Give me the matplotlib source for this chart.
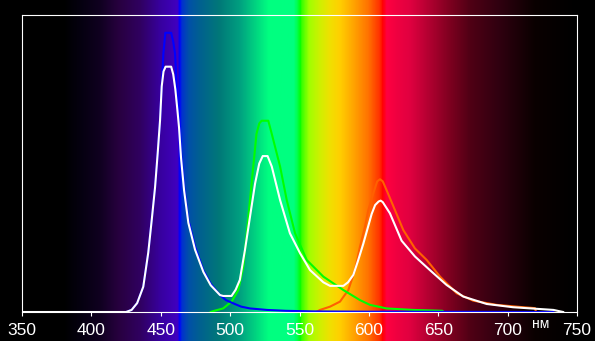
import numpy as np
import matplotlib.pyplot as plt
from matplotlib.colors import LinearSegmentedColormap

# spectrum curves, heights as a fraction of the frame height
blue_nm = [425, 429, 433, 437.4, 441, 443.5, 445.9, 447.8, 449.5, 450.7, 451.9, 453.3,
           457.5, 459, 460.3, 461.5, 463.2, 464.6, 466.8, 469.9, 474.7, 480.7, 486,
           492.7, 497, 502.3, 508, 514.3, 526.4, 540, 560, 600, 733]
blue_val = [0.0, 0.007, 0.03, 0.085, 0.2, 0.31, 0.42, 0.535, 0.646, 0.76, 0.87, 0.94,
            0.94, 0.91, 0.87, 0.76, 0.646, 0.535, 0.42, 0.31, 0.22, 0.14, 0.095,
            0.057, 0.04, 0.029, 0.018, 0.012, 0.007, 0.004, 0.002, 0.001, 0.0]

green_nm = [486, 487.8, 495, 501.1, 505.9, 509.5, 512, 514.3, 516.7, 519, 521, 522.7,
            527.5, 530, 536, 540.8, 546.8, 555.2, 567.2, 581.6, 593.6, 600.8, 612.8,
            631.8, 653, 654]
green_val = [0.0, 0.003, 0.012, 0.035, 0.074, 0.153, 0.265, 0.377, 0.49, 0.60, 0.635, 0.644,
             0.644, 0.60, 0.49, 0.377, 0.265, 0.175, 0.119, 0.074, 0.04, 0.024, 0.012,
             0.007, 0.004, 0.0]

red_nm = [562, 564.8, 572, 579.2, 585.2, 590, 593.6, 597.2, 599.6, 603.2, 606, 608,
          610, 612.8, 618.8, 624.8, 633.2, 641.7, 651.3, 663.3, 675.3, 692.1, 709,
          719.7, 720.5]
red_val = [0.0, 0.007, 0.018, 0.035, 0.074, 0.141, 0.22, 0.287, 0.343, 0.40, 0.44, 0.447,
           0.44, 0.41, 0.343, 0.276, 0.214, 0.175, 0.119, 0.063, 0.038, 0.024, 0.017,
           0.013, 0.0]

white_nm = [350, 425, 429, 433, 437.4, 441, 443.5, 445.9, 447.8, 449.5, 450.7, 452,
            453.5, 457.5, 459, 460.5, 462, 463.2, 464.6, 466.8, 469.9, 474.7, 480.7,
            486, 492.7, 495, 501, 504, 507, 510.7, 514.3, 518, 521, 523.5, 527, 530,
            536, 543.1, 550.4, 557.6, 567.2, 572, 581.6, 585, 588.8, 592, 596, 599,
            602, 604.5, 607, 608.5, 610, 615.2, 623.6, 633.2, 644, 656, 668, 684.9, 704,
            720, 733, 740]
white_val = [0.0, 0.0, 0.007, 0.03, 0.085, 0.2, 0.31, 0.42, 0.535, 0.646, 0.76, 0.81,
             0.826, 0.826, 0.80, 0.75, 0.68, 0.62, 0.52, 0.41, 0.30, 0.21, 0.135,
             0.09, 0.057, 0.054, 0.054, 0.075, 0.108, 0.209, 0.32, 0.433, 0.50, 0.525, 0.525, 0.49,
             0.377, 0.265, 0.198, 0.141, 0.10, 0.088, 0.088, 0.10, 0.125, 0.17, 0.23, 0.28,
             0.33, 0.36, 0.372, 0.375, 0.37, 0.332, 0.24, 0.187, 0.141, 0.091, 0.052, 0.027, 0.016,
             0.011, 0.007, 0.0]

ticks = [350, 400, 450, 500, 550, 600, 650, 700, 750]

# background spectrum colours
bg_nm = [334, 380, 392, 406, 420, 435, 450, 462, 463.5, 465, 470, 478, 492, 507, 521,
         528, 546, 549, 550.5, 552, 557, 565, 572, 579, 590, 600, 608, 610, 613, 620,
         630, 644, 658, 673, 694, 720, 750, 763]
bg_col = ['#000000', '#000000', '#050010', '#100020', '#280040', '#300060', '#3800a0',
          '#4000c0', '#0000ff', '#0030d0', '#0050a8', '#006090', '#007878', '#00a080',
          '#00e080', '#00ff80', '#00ff80', '#00ff40', '#00ff00', '#40ff00', '#a0ff00',
          '#d0f000', '#f0e000', '#ffd000', '#ffa000', '#ff7000', '#ff3000', '#ff0000',
          '#ff0040', '#f00040', '#e00040', '#b00030', '#800020', '#500015', '#300010',
          '#0a0000', '#000000', '#000000']

plt.rcParams['font.family'] = ['Liberation Sans Narrow', 'Liberation Sans', 'DejaVu Sans']

fig = plt.figure(figsize=(5.95, 3.41), dpi=100, facecolor='black')
ax = fig.add_axes([22 / 595, 29 / 341, 555 / 595, 297 / 341])
ax.set_facecolor('black')

pos = [(v - bg_nm[0]) / (bg_nm[-1] - bg_nm[0]) for v in bg_nm]
cmap = LinearSegmentedColormap.from_list('spec', list(zip(pos, bg_col)), N=1024)
grad = np.linspace(bg_nm[0], bg_nm[-1], 1200)[None, :]
ax.imshow(grad, cmap=cmap, vmin=bg_nm[0], vmax=bg_nm[-1], aspect='auto',
          extent=(bg_nm[0], bg_nm[-1], -29 / 297, 1 + 15 / 297), clip_on=False, zorder=0)

ax.plot(red_nm, red_val, color='#ff6000', lw=1.5, zorder=3)
ax.plot(green_nm, green_val, color='#00ff00', lw=1.5, zorder=3)
ax.plot(blue_nm, blue_val, color='#0000ff', lw=1.5, zorder=4)
ax.plot(white_nm, white_val, color='white', lw=1.5, zorder=5)

ax.set_xlim(350, 750)
ax.set_ylim(0, 1)
ax.set_xticks(ticks)
ax.set_yticks([])
ax.tick_params(axis='x', colors='white', direction='out', length=3, width=0.8,
               pad=5, labelsize=12.5)
for s in ax.spines.values():
    s.set_color('white')
    s.set_linewidth(0.8)
    s.set_zorder(6)

ax.text(724, -0.042, 'нм', color='white', fontsize=10, ha='center', va='center',
        clip_on=False)

fig.savefig('out.png', dpi=100, facecolor='black')
